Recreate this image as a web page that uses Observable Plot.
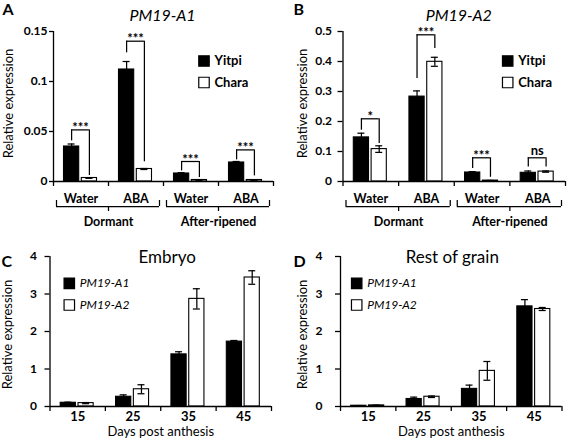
<!DOCTYPE html>
<html><head><meta charset="utf-8">
<script src="https://cdn.jsdelivr.net/npm/d3@7"></script>
<script src="https://cdn.jsdelivr.net/npm/@observablehq/plot@0.6"></script>
<style>
html,body{margin:0;padding:0;background:#fff;}
#fig{position:relative;width:567px;height:441px;overflow:hidden;background:#fff;font-family:Lato,sans-serif;}
#fig > div{position:absolute;}
</style></head><body><div id="fig"></div>
<script>
// ---------- data ----------
// Panels A and B (seed treatments)
const treatments = ["Water", "ABA", "Water", "ABA"];
const conditions = ["Dormant", "After-ripened"];
const cultivars = ["Yitpi", "Chara"];

// A: PM19-A1
const a1Yitpi    = [0.035, 0.112, 0.008, 0.019];
const a1YitpiErr = [0.0025, 0.008, 0.0008, 0.001];
const a1Chara    = [0.0035, 0.0125, 0.0015, 0.0015];
const a1CharaErr = [0.0003, 0.0005, 0.0002, 0.0002];
const a1Sig      = ["***", "***", "***", "***"];
const a1SigTop   = [0.0516, 0.1403, 0.020, 0.0316];
const a1SigLeft  = [0.0406, 0.1287, 0.0106, 0.0216];
const a1SigRight = [0.006, 0.0197, 0.004, 0.0056];

// B: PM19-A2
const a2Yitpi    = [0.147, 0.283, 0.030, 0.029];
const a2YitpiErr = [0.014, 0.019, 0.003, 0.006];
const a2Chara    = [0.108, 0.399, 0.003, 0.033];
const a2CharaErr = [0.011, 0.015, 0.0005, 0.002];
const a2Sig      = ["*", "***", "***", "ns"];
const a2SigTop   = [0.209, 0.489, 0.079, 0.079];
const a2SigLeft  = [0.171, 0.343, 0.043, 0.048];
const a2SigRight = [0.127, 0.443, 0.014, 0.048];

// C and D: development
const days = ["15", "25", "35", "45"];
const genes = ["PM19-A1", "PM19-A2"];
const embA1    = [0.10, 0.26, 1.39, 1.73];
const embA1Err = [0.015, 0.05, 0.07, 0.03];
const embA2    = [0.09, 0.46, 2.87, 3.44];
const embA2Err = [0.015, 0.12, 0.27, 0.18];
const restA1    = [0.02, 0.20, 0.47, 2.67];
const restA1Err = [0.005, 0.05, 0.10, 0.18];
const restA2    = [0.03, 0.26, 0.95, 2.60];
const restA2Err = [0.005, 0.02, 0.25, 0.04];

// tick values
const ticksA = [0, 0.05, 0.1, 0.15];
const ticksB = [0, 0.1, 0.2, 0.3, 0.4, 0.5];
const ticksCD = [0, 1, 2, 3, 4];

// ---------- drawing ----------
const INK = "#000";
const SW = 1.25;

function panel(o) {
  const n = o.keys.length;
  const s = (o.width - o.ml - o.mr) / n;
  const h = s / 2;
  const off0 = -9.4, off1 = 8.4; // bar centres relative to band centre
  const rows = o.keys.map((k, i) => ({k, v0: o.s0[i], e0: o.e0[i], v1: o.s1[i], e1: o.e1[i]}));
  const cap = (c) => ({insetLeft: h + c - 3.5, insetRight: h - c - 3.5});
  const line = {stroke: INK, strokeWidth: SW};
  const marks = [
    Plot.barY(rows, {x: "k", y1: 0, y2: "v0", fill: INK, stroke: INK, strokeWidth: 1.1, insetLeft: h - 17, insetRight: h + 1.8}),
    Plot.barY(rows, {x: "k", y1: 0, y2: "v1", fill: "white", stroke: INK, strokeWidth: 1.1, insetLeft: h + 0.8, insetRight: h - 16}),
    Plot.ruleX(rows.filter(d => d.e0 > 0), {x: "k", y1: d => Math.max(0, d.v0 - d.e0), y2: d => d.v0 + d.e0, dx: off0, ...line}),
    Plot.tickY(rows.filter(d => d.e0 > 0), {x: "k", y: d => d.v0 + d.e0, ...cap(off0), ...line}),
    Plot.ruleX(rows.filter(d => d.e1 > 0), {x: "k", y1: d => Math.max(0, d.v1 - d.e1), y2: d => d.v1 + d.e1, dx: off1, ...line}),
    Plot.tickY(rows.filter(d => d.e1 > 0), {x: "k", y: d => d.v1 + d.e1, ...cap(off1), ...line}),
    Plot.tickY(rows.filter(d => d.e1 > 0 && d.v1 - d.e1 > 0), {x: "k", y: d => d.v1 - d.e1, ...cap(off1), ...line}),
    // axes lines and boundary ticks
    Plot.ruleY([0], {stroke: INK, strokeWidth: 1.3}),
    Plot.ruleX([o.keys[0]], {x: d => d, dx: -h, stroke: INK, strokeWidth: 1.3}),
    Plot.ruleX(o.keys, {x: d => d, y1: 0, y2: 0, dx: -h, insetBottom: -5, stroke: INK, strokeWidth: 1.3}),
    Plot.ruleX([o.keys[n - 1]], {x: d => d, y1: 0, y2: 0, dx: h, insetBottom: -5, stroke: INK, strokeWidth: 1.3}),
    Plot.axisY({ticks: o.yTicks, tickFormat: d => String(d), tickSize: o.tickSize, tickPadding: o.tickPad,
      fontWeight: "bold", fontSize: 12, label: null, stroke: INK, strokeWidth: 1.3}),
    Plot.axisX({tickSize: 0, tickPadding: o.xPad, tickFormat: o.xFormat, fontWeight: "bold", fontSize: o.xFont, label: null}),
    // y label
    Plot.text([o.yLabel], {frameAnchor: "left", text: d => d, rotate: -90, textAnchor: "middle", lineAnchor: "middle",
      dx: o.yLabDx, dy: o.yLabDy, fontSize: 13}),
    // title
    Plot.text([o.title], {frameAnchor: "top", text: d => d, lineAnchor: "middle", textAnchor: "middle",
      dx: o.titleDx, dy: o.titleDy, fontSize: o.titleSize, fontStyle: o.titleStyle}),
    // panel letter
    Plot.text([o.letter], {frameAnchor: "top-left", text: d => d, textAnchor: "start", lineAnchor: "top", dx: o.letDx, dy: o.letDy, fontSize: 16, fontWeight: "bold"})
  ];
  // legend
  o.series.forEach((name, i) => {
    marks.push(Plot.dot([name], {frameAnchor: "top-left", dx: o.legX, dy: o.legY + i * o.legGap, symbol: "square", r: 5.9,
      fill: i ? "white" : INK, stroke: INK, strokeWidth: 1.2}));
    marks.push(Plot.text([name], {frameAnchor: "top-left", text: d => d, textAnchor: "start", lineAnchor: "middle",
      dx: o.legX + 10.5, dy: o.legY + i * o.legGap,
      fontSize: o.legFont, fontWeight: o.legWeight, fontStyle: o.legStyle}));
  });
  // significance brackets
  if (o.sig) {
    const br = o.keys.map((k, i) => ({k, lab: o.sig[i], top: o.sigTop[i], l: o.sigL[i], r: o.sigR[i]}));
    marks.push(
      Plot.ruleX(br, {x: "k", y1: "l", y2: "top", dx: off0, ...line}),
      Plot.ruleX(br, {x: "k", y1: "r", y2: "top", dx: off1, ...line}),
      Plot.tickY(br, {x: "k", y: "top", insetLeft: h + off0, insetRight: h - off1, ...line}),
      Plot.text(br.filter(d => d.lab.includes("*")), {x: "k", y: "top", text: "lab", lineAnchor: "middle", dx: (off0 + off1) / 2, dy: -2, fontWeight: "bold", fontSize: 13}),
      Plot.text(br.filter(d => !d.lab.includes("*")), {x: "k", y: "top", text: "lab", lineAnchor: "middle", dx: (off0 + off1) / 2, dy: -7, fontWeight: "bold", fontSize: 13})
    );
  }
  // condition braces
  if (o.conds) {
    const cs = o.conds.map((c, i) => ({c, first: o.keys[2 * i], last: o.keys[2 * i + 1]}));
    marks.push(
      Plot.ruleY(cs, {x1: "first", x2: "last", y: 0, dy: 25, insetLeft: 3, insetRight: 4, ...line}),
      Plot.ruleX(cs, {x: "first", y1: 0, y2: 0, dx: -h + 3, dy: 25, insetTop: -6, ...line}),
      Plot.ruleX(cs, {x: "last", y1: 0, y2: 0, dx: h - 4, dy: 25, insetTop: -6, ...line}),
      Plot.ruleX(cs, {x: "last", y1: 0, y2: 0, dx: -h, dy: 25, insetBottom: -5, ...line}),
      Plot.text(cs, {x: "last", y: 0, text: "c", lineAnchor: "middle", dx: -h, dy: 40.5, fontWeight: "bold", fontSize: 12.5})
    );
  }
  if (o.xTitle) {
    marks.push(Plot.text([o.xTitle], {frameAnchor: "bottom", text: d => d, lineAnchor: "middle", textAnchor: "middle", dy: o.xTitleDy, fontSize: 13}));
  }
  const chart = Plot.plot({
    width: o.width, height: o.height,
    marginLeft: o.ml, marginRight: o.mr, marginTop: o.mt, marginBottom: o.mb,
    x: {type: "band", domain: o.keys, paddingInner: 0, paddingOuter: 0, round: false},
    y: {domain: o.yDomain, round: false},
    style: {fontFamily: "Lato, sans-serif", fontSize: "12px", background: "transparent", overflow: "visible", color: INK},
    marks
  });
  const wrap = document.createElement("div");
  wrap.style.left = o.left + "px";
  wrap.style.top = o.top + "px";
  wrap.appendChild(chart);
  document.getElementById("fig").appendChild(wrap);
}

const idx = treatments.map((_, i) => i);
const common = {width: 283, xFormat: i => treatments[i], xPad: 13, xFont: 12.5, yLabel: "Relative expression", yLabDy: -3,
  series: cultivars, legFont: 13, legWeight: "bold", legStyle: "normal", legGap: 21.5, conds: conditions, titleSize: 16, titleStyle: "italic", titleDy: -16, letDy: -28};

panel({...common, left: 0, top: 0, height: 230, ml: 53, mr: 10, mt: 31, mb: 49,
  keys: idx, s0: a1Yitpi, e0: a1YitpiErr, s1: a1Chara, e1: a1CharaErr,
  sig: a1Sig, sigTop: a1SigTop, sigL: a1SigLeft, sigR: a1SigRight,
  yDomain: [0, 0.15], yTicks: ticksA, tickSize: 4, tickPad: 2, yLabDx: -45,
  title: "PM19-A1", titleDx: -1, letter: "A", letDx: -51,
  legX: 150.5, legY: 29.5});

panel({...common, left: 284, top: 0, height: 230, ml: 58.5, mr: 2, mt: 31, mb: 49,
  keys: idx, s0: a2Yitpi, e0: a2YitpiErr, s1: a2Chara, e1: a2CharaErr,
  sig: a2Sig, sigTop: a2SigTop, sigL: a2SigLeft, sigR: a2SigRight,
  yDomain: [0, 0.5], yTicks: ticksB, tickSize: 5, tickPad: 6, yLabDx: -40.5,
  title: "PM19-A2", titleDx: 4.5, letter: "B", letDx: -49.5,
  legX: 164.7, legY: 29.5});

const commonCD = {width: 283, height: 209, mt: 24, mb: 35, keys: days, xFormat: d => d, xPad: 5, xFont: 13,
  yLabel: "Relative expression", yLabDy: 3, yDomain: [0, 4], yTicks: ticksCD, tickSize: 5,
  series: genes, legFont: 12, legWeight: "normal", legStyle: "italic", legGap: 21.7, titleSize: 17, titleStyle: "normal", titleDy: 1.5,
  letDy: -1, xTitle: "Days post anthesis", xTitleDy: 25, legY: 26.8};

panel({...commonCD, left: 0, top: 232, ml: 49.5, mr: 12,
  s0: embA1, e0: embA1Err, s1: embA2, e1: embA2Err, tickPad: 8, yLabDx: -42.5,
  title: "Embryo", titleDx: 6.5, letter: "C", letDx: -48.5, legX: 19.3});

panel({...commonCD, left: 284, top: 232, ml: 56, mr: 5.5,
  s0: restA1, e0: restA1Err, s1: restA2, e1: restA2Err, tickPad: 13, yLabDx: -38,
  title: "Rest of grain", titleDx: 1, letter: "D", letDx: -47, legX: 16.2});
</script>
</body></html>
